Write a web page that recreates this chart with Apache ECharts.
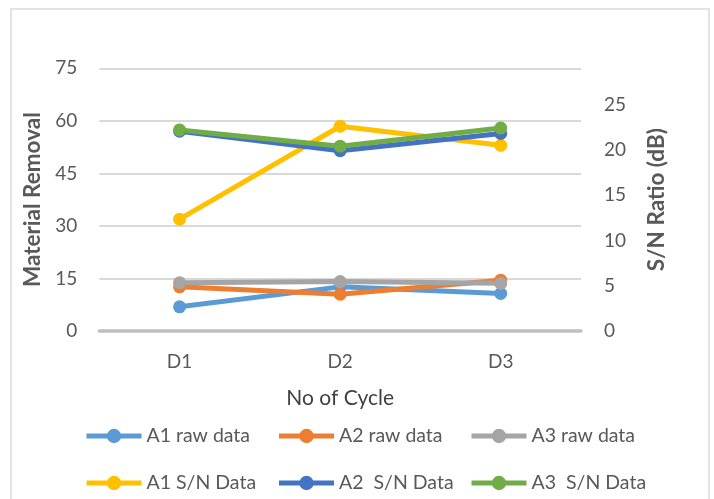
<!DOCTYPE html>
<html>
<head>
<meta charset="utf-8">
<script src="https://cdn.jsdelivr.net/npm/echarts@6/dist/echarts.min.js"></script>
<style>
html,body{margin:0;padding:0;background:#fff;}
#chart{width:714px;height:499px;}
</style>
</head>
<body>
<div id="chart"></div>
<script>
// Data
var categories = ['D1', 'D2', 'D3'];
var a1Raw = [6.9, 12.6, 10.7];
var a2Raw = [12.6, 10.5, 14.5];
var a3Raw = [13.8, 14.1, 13.6];
var a1SN = [12.35, 22.6, 20.5];
var a2SN = [22.05, 19.9, 21.8];
var a3SN = [22.2, 20.4, 22.4];
var leftTicks = {min: 0, max: 75, interval: 15};
var rightTicks = {min: 0, max: 29, interval: 5};

var seriesNames = ['A1 raw data', 'A2 raw data', 'A3 raw data', 'A1 S/N Data', 'A2  S/N Data', 'A3  S/N Data'];
var seriesColors = ['#5B9BD5', '#ED7D31', '#A5A5A5', '#FFC000', '#4472C4', '#70AD47'];
var seriesData = [a1Raw, a2Raw, a3Raw, a1SN, a2SN, a3SN];
var seriesAxis = [0, 0, 0, 1, 1, 1];

var FONT = 'Lato';
var TXT = '#595959';

var chart = echarts.init(document.getElementById('chart'));

var series = seriesNames.map(function (n, i) {
  return {
    name: n,
    type: 'line',
    yAxisIndex: seriesAxis[i],
    data: seriesData[i],
    symbol: 'circle',
    symbolSize: 13,
    lineStyle: {width: 5, color: seriesColors[i]},
    itemStyle: {color: seriesColors[i]},
    emphasis: {disabled: true},
    animation: false
  };
});

function legendRow(names, top) {
  return {
    data: names,
    left: 84,
    top: top,
    padding: 0,
    orient: 'horizontal',
    itemWidth: 55,
    itemHeight: 18,
    itemGap: 8,
    lineStyle: {width: 5},
    textStyle: {fontFamily: FONT, fontSize: 19.5, lineHeight: 20, color: TXT, width: 122, overflow: 'none'},
    selectedMode: false
  };
}

chart.setOption({
  backgroundColor: '#ffffff',
  animation: false,
  color: seriesColors,
  grid: {left: 99.3, right: 133, top: 68.3, bottom: 168, containLabel: false},
  graphic: [{
    type: 'rect',
    shape: {x: 11, y: 9, width: 698, height: 500},
    style: {fill: 'none', stroke: '#d9d9d9', lineWidth: 1.5},
    silent: true
  }],
  legend: [
    legendRow(seriesNames.slice(0, 3), 426),
    legendRow(seriesNames.slice(3, 6), 473)
  ],
  xAxis: {
    type: 'category',
    data: categories,
    boundaryGap: true,
    axisLine: {lineStyle: {color: '#bfbfbf', width: 3.5}},
    axisTick: {show: false},
    axisLabel: {fontFamily: FONT, fontSize: 19, color: TXT, margin: 21},
    name: 'No of Cycle',
    nameLocation: 'middle',
    nameGap: 57,
    nameTextStyle: {fontFamily: FONT, fontSize: 21, color: '#404040', fontWeight: 'normal'}
  },
  yAxis: [{
    type: 'value',
    min: leftTicks.min,
    max: leftTicks.max,
    interval: leftTicks.interval,
    axisLine: {show: false},
    axisTick: {show: false},
    splitLine: {lineStyle: {color: '#d9d9d9', width: 2}},
    axisLabel: {fontFamily: FONT, fontSize: 19, color: TXT, margin: 22},
    name: 'Material Removal',
    nameLocation: 'middle',
    nameGap: 54,
    nameTextStyle: {fontFamily: FONT, fontSize: 22.5, color: TXT, fontWeight: 'bold'}
  }, {
    type: 'value',
    position: 'right',
    min: rightTicks.min,
    max: rightTicks.max,
    interval: rightTicks.interval,
    axisLine: {show: false},
    axisTick: {show: false},
    splitLine: {show: false},
    axisLabel: {fontFamily: FONT, fontSize: 19, color: TXT, margin: 23, showMaxLabel: false},
    name: 'S/N Ratio (dB)',
    nameLocation: 'middle',
    nameRotate: 90,
    nameGap: 64,
    nameTextStyle: {fontFamily: FONT, fontSize: 22.5, color: TXT, fontWeight: 'bold'}
  }],
  series: series
});
</script>
</body>
</html>
